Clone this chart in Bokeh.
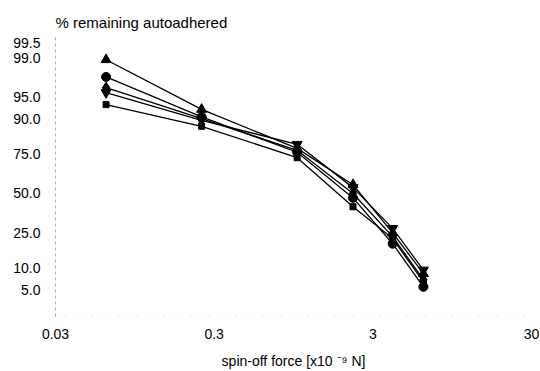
from statistics import NormalDist
from bokeh.plotting import figure
from bokeh.models import FixedTicker, Range1d
from bokeh.embed import file_html
from bokeh.resources import INLINE

# ---- data ----
force = [0.0625, 0.25, 1.0, 2.25, 4.0, 6.25]          # x10^-9 N
triangle = [98.9, 92.5, 78.0, 56.0, 25.0, 8.5]
circle = [97.7, 90.5, 76.0, 47.0, 19.5, 5.5]
diamond = [96.5, 90.0, 77.0, 50.0, 23.0, 7.0]
inv_triangle = [95.8, 89.5, 80.0, 54.0, 27.5, 9.5]
square = [93.6, 87.5, 73.0, 41.0, 22.0, 6.5]

y_tick_pct = [99.5, 99.0, 95.0, 90.0, 75.0, 50.0, 25.0, 10.0, 5.0]
y_tick_text = ["99.5", "99.0", "95.0", "90.0", "75.0", "50.0", "25.0", "10.0", "5.0"]
x_ticks = [0.03, 0.3, 3, 30]
x_tick_text = ["0.03", "0.3", "3", "30"]
title_text = "% remaining autoadhered"
x_label_text = "spin-off force [x10 \u207b\u2079 N]"

nd = NormalDist()
def probit(pcts):
    return [round(nd.inv_cdf(v / 100.0), 4) for v in pcts]

FONT = "Liberation Sans"
Z_LO, Z_HI = -2.106, 2.705

p = figure(width=540, height=371, output_backend="svg", toolbar_location=None,
           x_axis_type="log",
           x_range=Range1d(0.03, 30), y_range=Range1d(Z_LO, Z_HI),
           min_border_left=55, min_border_right=9, min_border_top=35, min_border_bottom=55)
p.outline_line_color = None
p.grid.visible = False
p.background_fill_color = "white"

p.title.text = title_text
p.title.text_font = FONT
p.title.text_font_size = "15px"
p.title.text_font_style = "normal"
p.title.align = "left"
p.title.text_color = "black"
p.title.standoff = 9

series = [
    (triangle, "triangle", 10),
    (circle, "circle", 9),
    (diamond, "diamond", 11),
    (inv_triangle, "inverted_triangle", 10),
    (square, "square", 6),
]
for vals, marker, size in series:
    z = probit(vals)
    p.line(force, z, line_color="black", line_width=1.3)
    p.scatter(force, z, marker=marker, size=size, fill_color="black", line_color="black")

yt = probit(y_tick_pct)
p.yaxis.ticker = FixedTicker(ticks=yt)
p.yaxis.major_label_overrides = {t: s for t, s in zip(yt, y_tick_text)}
p.xaxis.ticker = FixedTicker(ticks=x_ticks)
p.xaxis.major_label_overrides = {t: s for t, s in zip(x_ticks, x_tick_text)}

for ax in (p.xaxis, p.yaxis):
    ax.major_tick_line_color = None
    ax.minor_tick_line_color = None
    ax.major_tick_out = 0
    ax.major_tick_in = 0
    ax.major_label_text_font = FONT
    ax.major_label_text_font_size = "14px"
    ax.major_label_text_color = "black"

p.yaxis.axis_line_color = "#aaaaaa"
p.yaxis.axis_line_dash = "3 3"
p.yaxis.major_label_standoff = 15
p.xaxis.axis_line_color = "#d5d5d5"
p.xaxis.axis_line_dash = "1 8"
p.xaxis.major_label_standoff = 12

p.xaxis.axis_label = x_label_text
p.xaxis.axis_label_text_font = FONT
p.xaxis.axis_label_text_font_size = "14px"
p.xaxis.axis_label_text_font_style = "normal"
p.xaxis.axis_label_text_color = "black"
p.xaxis.axis_label_standoff = 11

open("out.html", "w").write(file_html(p, INLINE))
